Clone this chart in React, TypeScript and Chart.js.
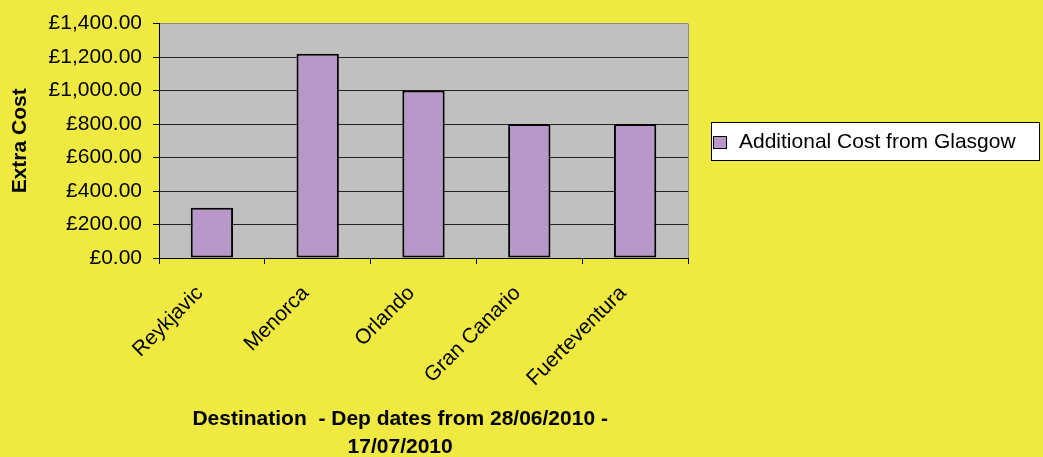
import React, { useEffect, useRef } from "react";
import { Chart, registerables } from "chart.js";

Chart.register(...registerables);

const categories = ["Reykjavic", "Menorca", "Orlando", "Gran Canario", "Fuerteventura"];
const additionalCost = [300, 1220, 1000, 800, 800];
const seriesLabel = "Additional Cost from Glasgow";
const yTitle = "Extra Cost";
const xTitleLines = ["Destination  - Dep dates from 28/06/2010 -", "17/07/2010"];
const yMin = 0;
const yMax = 1400;
const yStep = 200;

const FONT = '"Liberation Sans", Arial, sans-serif';
const YELLOW = "#EFEA42";
const PLOT_GREY = "#C0C0C0";
const BAR = "#B898C8";

const backgroundPlugin = {
  id: "bgPlugin",
  beforeDraw(chart: any) {
    const { ctx, chartArea } = chart;
    ctx.save();
    ctx.fillStyle = YELLOW;
    ctx.fillRect(0, 0, chart.width, chart.height);
    ctx.fillStyle = PLOT_GREY;
    ctx.fillRect(chartArea.left, chartArea.top, chartArea.right - chartArea.left, chartArea.bottom - chartArea.top);
    ctx.strokeStyle = "#888888";
    ctx.lineWidth = 1;
    ctx.beginPath();
    ctx.moveTo(Math.round(chartArea.right) + 0.5, chartArea.top);
    ctx.lineTo(Math.round(chartArea.right) + 0.5, chartArea.bottom);
    ctx.stroke();
    ctx.restore();
  },
};

const boxLegendPlugin = {
  id: "boxLegend",
  afterDraw(chart: any) {
    const { ctx, chartArea } = chart;
    const left = Math.round(chartArea.right) + 23;
    const w = 329;
    const h = 39;
    const cy = (chartArea.top + chartArea.bottom) / 2;
    const top = Math.round(cy - h / 2) + 1;
    ctx.save();
    ctx.fillStyle = "#FFFFFF";
    ctx.fillRect(left, top, w, h);
    ctx.strokeStyle = "#000000";
    ctx.lineWidth = 1;
    ctx.strokeRect(left + 0.5, top + 0.5, w - 1, h - 1);
    const sx = left + 2;
    const sy = Math.round(top + h / 2 - 6);
    ctx.fillStyle = BAR;
    ctx.fillRect(sx, sy, 14, 13);
    ctx.strokeRect(sx + 0.5, sy + 0.5, 13, 12);
    ctx.fillStyle = "#000000";
    ctx.font = `21px ${FONT}`;
    ctx.textAlign = "left";
    ctx.textBaseline = "middle";
    ctx.fillText(seriesLabel, left + 28, top + h / 2 + 1);
    ctx.restore();
  },
};

export default function App() {
  const canvasRef = useRef<HTMLCanvasElement | null>(null);

  useEffect(() => {
    if (!canvasRef.current) return;
    Chart.defaults.font.family = FONT;
    Chart.defaults.color = "#000000";
    const chart = new Chart(canvasRef.current, {
      type: "bar",
      data: {
        labels: categories,
        datasets: [
          {
            label: seriesLabel,
            data: additionalCost,
            backgroundColor: BAR,
            borderColor: "#000000",
            borderWidth: 2,
            borderSkipped: false,
            barPercentage: 0.4,
            categoryPercentage: 1,
          },
        ],
      },
      plugins: [backgroundPlugin, boxLegendPlugin],
      options: {
        responsive: false,
        animation: false,
        devicePixelRatio: 1,
        layout: { padding: { left: 0, top: 21, right: 355, bottom: 0 } },
        plugins: {
          legend: { display: false },
          tooltip: { enabled: false },
          title: { display: false },
        },
        scales: {
          x: {
            afterFit(scale: any) {
              scale.height = 199;
            },
            grid: {
              display: true,
              drawOnChartArea: false,
              offset: true,
              tickLength: 6,
              color: "#000000",
            },
            border: { display: true, color: "#000000", width: 1 },
            ticks: {
              minRotation: 45,
              maxRotation: 45,
              padding: 17,
              labelOffset: -12,
              color: "#000000",
              font: { size: 21 },
            },
            title: {
              display: true,
              text: xTitleLines.map((l) => l + "        "),
              color: "#000000",
              font: { size: 21, weight: "bold", lineHeight: 1.333 },
              padding: { top: 0, bottom: -4 },
            },
          },
          y: {
            min: yMin,
            max: yMax,
            afterFit(scale: any) {
              scale.width = 159;
            },
            ticks: {
              stepSize: yStep,
              padding: 11,
              color: "#000000",
              font: { size: 21 },
              callback: (v: any) =>
                "£" + Number(v).toLocaleString("en-GB", { minimumFractionDigits: 2, maximumFractionDigits: 2 }),
            },
            grid: {
              display: true,
              drawOnChartArea: true,
              tickLength: 6,
              tickColor: "#000000",
              color: (c: any) => (c.tick && c.tick.value === yMax ? "#888888" : "#222222"),
            },
            border: { display: true, color: "#000000", width: 1 },
            title: {
              display: true,
              text: yTitle,
              color: "#000000",
              font: { size: 21, weight: "bold" },
              padding: { top: 8, bottom: 0 },
            },
          },
        },
      } as any,
    });
    return () => chart.destroy();
  }, []);

  return (
    <div style={{ position: "absolute", left: 0, top: 0, width: 1043, height: 457, background: YELLOW }}>
      <canvas ref={canvasRef} width={1043} height={457} style={{ display: "block" }} />
    </div>
  );
}
